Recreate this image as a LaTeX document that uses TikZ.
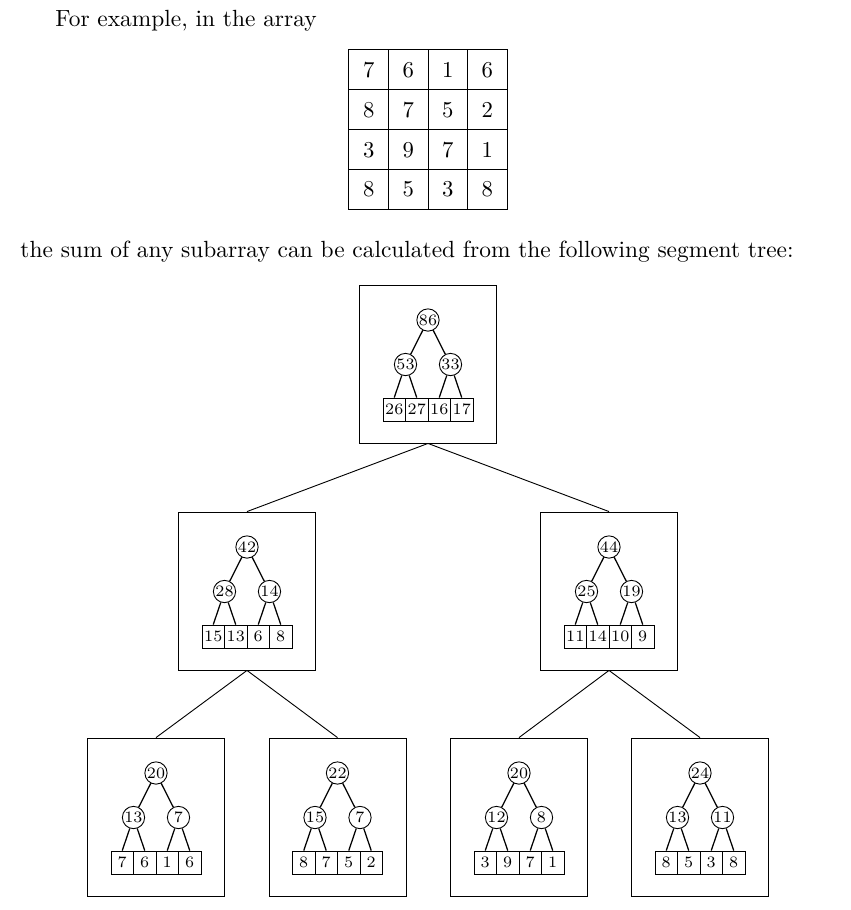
\documentclass[tikz,border=0pt]{standalone}
\usepackage{amsmath,amssymb}
\usepackage{tikz}
\usetikzlibrary{calc, matrix, positioning}

\tikzset{
  segframe/.style={draw, minimum width=60.3pt, minimum height=69.5pt, inner sep=0pt},
  segnode/.style={draw, circle, minimum size=9.8pt, inner sep=0pt, font=\scriptsize},
  segcell/.style={draw, minimum width=9.9pt, minimum height=10.1pt, inner sep=0pt, font=\scriptsize},
  segedge/.style={line width=0.55pt},
  bigcell/.style={draw, minimum width=17.4pt, minimum height=17.5pt, inner sep=0pt}
}

% one small segment tree inside its frame: name, top centre, root, children, leaves
\newcommand{\segtree}[9]{%
  \begin{scope}[shift={(#2)}]
    \node[segframe] (#1) at (0,79) {};
    \node[segcell] (#1-a) at (-33.75,124.5) {#6};
    \node[segcell] (#1-b) at (-11.25,124.5) {#7};
    \node[segcell] (#1-c) at (11.25,124.5) {#8};
    \node[segcell] (#1-d) at (33.75,124.5) {#9};
    \node[segnode] (#1-r) at (0,35) {#3};
    \node[segnode] (#1-x) at (-22.5,79.5) {#4};
    \node[segnode] (#1-y) at (22.5,79.5) {#5};
    \draw[segedge] (#1-r) -- (#1-x);
    \draw[segedge] (#1-r) -- (#1-y);
    \draw[segedge] (#1-x) -- (#1-a.north);
    \draw[segedge] (#1-x) -- (#1-b.north);
    \draw[segedge] (#1-y) -- (#1-c.north);
    \draw[segedge] (#1-y) -- (#1-d.north);
  \end{scope}}

\begin{document}
\begin{tikzpicture}[x=0.44pt, y=-0.44pt]
  \useasboundingbox (0,0) rectangle (851,910);
  % texts
  \node[anchor=base west, inner sep=0pt, font=\fontsize{10.3}{12}\selectfont] (intro) at (55,26) {For example, in the array};
  \node[anchor=base west, inner sep=0pt, font=\fontsize{10.3}{12}\selectfont] (sumtext) at (20,257) {the sum of any subarray can be calculated from the following segment tree:};
  % the array
  \matrix[matrix of nodes, nodes={bigcell}, column sep=-0.4pt, row sep=-0.4pt] (arr) at (428,129.5) {
    7 & 6 & 1 & 6 \\
    8 & 7 & 5 & 2 \\
    3 & 9 & 7 & 1 \\
    8 & 5 & 3 & 8 \\
  };
  % segment tree levels
  \segtree{top}{428,285}{86}{53}{33}{26}{27}{16}{17}
  \segtree{ml}{247,512}{42}{28}{14}{15}{13}{6}{8}
  \segtree{mr}{609,512}{44}{25}{19}{11}{14}{10}{9}
  \segtree{b1}{156,738}{20}{13}{7}{7}{6}{1}{6}
  \segtree{b2}{337.5,738}{22}{15}{7}{8}{7}{5}{2}
  \segtree{b3}{519,738}{20}{12}{8}{3}{9}{7}{1}
  \segtree{b4}{700,738}{24}{13}{11}{8}{5}{3}{8}
  % connections between frames
  \draw (top.south) -- (ml.north);
  \draw (top.south) -- (mr.north);
  \draw (ml.south) -- (b1.north);
  \draw (ml.south) -- (b2.north);
  \draw (mr.south) -- (b3.north);
  \draw (mr.south) -- (b4.north);
\end{tikzpicture}
\end{document}
